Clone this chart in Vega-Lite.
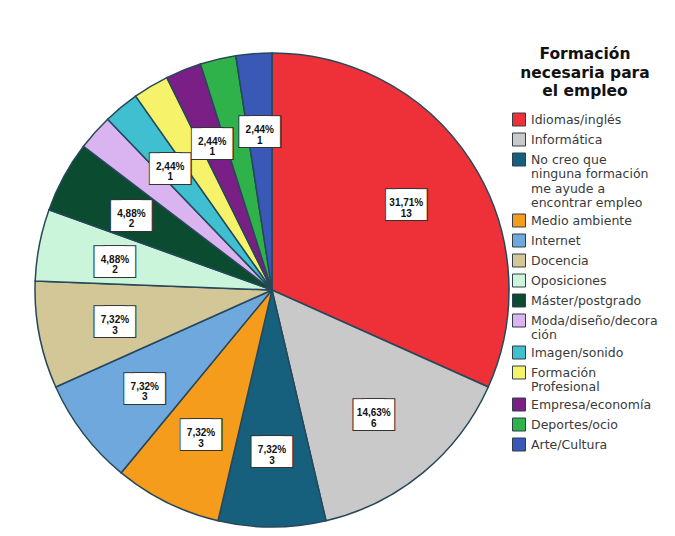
{
  "$schema": "https://vega.github.io/schema/vega-lite/v6.json",
  "width": 544,
  "height": 492,
  "autosize": "none",
  "padding": {"left": 0, "top": 44, "right": 131, "bottom": 0},
  "background": "white",
  "config": {"view": {"stroke": null}},
  "data": {
    "values": [
      {"idx": 1, "cat": "Idiomas/inglés", "n": 13, "label": "31,71%\n13", "show": true},
      {"idx": 2, "cat": "Informática", "n": 6, "label": "14,63%\n6", "show": true},
      {"idx": 3, "cat": "No creo que ninguna formación me ayude a encontrar empleo", "n": 3, "label": "7,32%\n3", "show": true},
      {"idx": 4, "cat": "Medio ambiente", "n": 3, "label": "7,32%\n3", "show": true},
      {"idx": 5, "cat": "Internet", "n": 3, "label": "7,32%\n3", "show": true},
      {"idx": 6, "cat": "Docencia", "n": 3, "label": "7,32%\n3", "show": true},
      {"idx": 7, "cat": "Oposiciones", "n": 2, "label": "4,88%\n2", "show": true},
      {"idx": 8, "cat": "Máster/postgrado", "n": 2, "label": "4,88%\n2", "show": true},
      {"idx": 9, "cat": "Moda/diseño/decoración", "n": 1, "label": "", "show": false},
      {"idx": 10, "cat": "Imagen/sonido", "n": 1, "label": "2,44%\n1", "show": true},
      {"idx": 11, "cat": "Formación Profesional", "n": 1, "label": "", "show": false},
      {"idx": 12, "cat": "Empresa/economía", "n": 1, "label": "2,44%\n1", "show": true},
      {"idx": 13, "cat": "Deportes/ocio", "n": 1, "label": "", "show": false},
      {"idx": 14, "cat": "Arte/Cultura", "n": 1, "label": "2,44%\n1", "show": true}
    ]
  },
  "encoding": {
    "theta": {"field": "n", "type": "quantitative", "stack": true},
    "order": {"field": "idx", "type": "quantitative"}
  },
  "layer": [
    {
      "mark": {"type": "arc", "outerRadius": 237, "stroke": "#27485a", "strokeWidth": 1.5},
      "encoding": {
        "color": {
          "field": "cat",
          "type": "nominal",
          "scale": {
            "domain": ["Idiomas/inglés", "Informática", "No creo que ninguna formación me ayude a encontrar empleo", "Medio ambiente", "Internet", "Docencia", "Oposiciones", "Máster/postgrado", "Moda/diseño/decoración", "Imagen/sonido", "Formación Profesional", "Empresa/economía", "Deportes/ocio", "Arte/Cultura"],
            "range": ["#ee3139", "#c9c9c9", "#17607d", "#f59c1c", "#6fa8dc", "#d3c798", "#cbf5da", "#0b4b2f", "#dab4f0", "#3fbfcf", "#f6f36a", "#7a1f86", "#30b24b", "#3a58b5"]
          },
          "legend": {
            "orient": "none",
            "legendX": 512,
            "legendY": 3,
            "title": ["Formación", "necesaria para", "el empleo"],
            "titleFont": "DejaVu Sans",
            "titleFontSize": 15.5,
            "titleFontWeight": "bold",
            "titleColor": "#111",
            "titleLineHeight": 18.5,
            "titleAlign": "center",
            "titleAnchor": "middle",
            "titlePadding": 13,
            "symbolType": "square",
            "symbolSize": 169,
            "symbolStrokeColor": "#2f3f4a",
            "symbolStrokeWidth": 1,
            "labelFont": "DejaVu Sans",
            "labelFontSize": 12.5,
            "labelColor": "#3a3a3a",
            "labelOffset": 5,
            "labelLimit": 200,
            "rowPadding": 2,
            "labelExpr": "datum.label == 'No creo que ninguna formación me ayude a encontrar empleo' ? ['No creo que', 'ninguna formación', 'me ayude a', 'encontrar empleo'] : datum.label == 'Moda/diseño/decoración' ? ['Moda/diseño/decora', 'ción'] : datum.label == 'Formación Profesional' ? ['Formación', 'Profesional'] : datum.label"
          }
        }
      }
    },
    {
      "mark": {"type": "text", "radius": 160, "dx": -5, "font": "DejaVu Sans", "fontSize": 43, "baseline": "middle", "align": "center", "fill": "#333"},
      "encoding": {"text": {"condition": {"test": "datum.show", "value": "■"}, "value": ""}}
    },
    {
      "mark": {"type": "text", "radius": 160, "dx": 5, "font": "DejaVu Sans", "fontSize": 43, "baseline": "middle", "align": "center", "fill": "#333"},
      "encoding": {"text": {"condition": {"test": "datum.show", "value": "■"}, "value": ""}}
    },
    {
      "mark": {"type": "text", "radius": 160, "dx": -5, "font": "DejaVu Sans", "fontSize": 40, "baseline": "middle", "align": "center", "fill": "white"},
      "encoding": {"text": {"condition": {"test": "datum.show", "value": "■"}, "value": ""}}
    },
    {
      "mark": {"type": "text", "radius": 160, "dx": 5, "font": "DejaVu Sans", "fontSize": 40, "baseline": "middle", "align": "center", "fill": "white"},
      "encoding": {"text": {"condition": {"test": "datum.show", "value": "■"}, "value": ""}}
    },
    {
      "mark": {"type": "text", "radius": 160, "font": "Liberation Sans", "fontSize": 10, "fontWeight": "bold", "lineBreak": "\n", "lineHeight": 10.5, "baseline": "middle", "align": "center", "color": "#111"},
      "encoding": {"text": {"field": "label", "type": "nominal"}}
    }
  ]
}
